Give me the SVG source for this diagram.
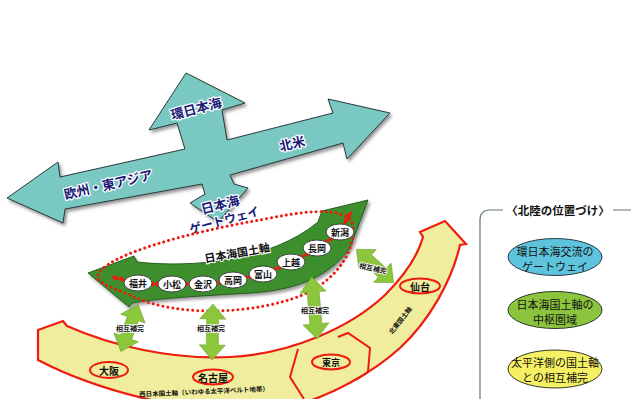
<svg xmlns="http://www.w3.org/2000/svg" width="631" height="399" viewBox="0 0 631 399">
<defs>
<style>
.jp{font-family:'Noto Sans CJK JP','Noto Sans CJK SC',sans-serif;}
.teal-t{font-size:13px;font-weight:bold;fill:#1c1c78;stroke:#fff;stroke-width:2.5px;paint-order:stroke;stroke-linejoin:round;text-anchor:middle;dominant-baseline:central;}
.st{fill:#fff;stroke:#333;stroke-width:0.9;}
.st-t{font-size:9px;font-weight:bold;fill:#111;text-anchor:middle;dominant-baseline:central;}
.city{fill:none;stroke:#ee1c10;stroke-width:2;}
.city-t{font-size:10px;font-weight:bold;fill:#111;text-anchor:middle;dominant-baseline:central;}
.lime{fill:#8cc63c;stroke:#6fa52a;stroke-width:0.6;}
.sg{font-size:7px;font-weight:bold;fill:#111;stroke:#fff;stroke-width:1.5px;paint-order:stroke;text-anchor:middle;dominant-baseline:central;}
.red2{stroke:#ee1c10;stroke-width:2;fill:none;}
.dd{stroke:#ee1c10;stroke-width:2;marker-start:url(#rh);marker-end:url(#rh);}
.el-t{font-size:11px;fill:#111;text-anchor:middle;dominant-baseline:central;}
.small{font-size:6.5px;font-weight:bold;fill:#111;text-anchor:middle;dominant-baseline:central;}
</style>
<marker id="rh" viewBox="0 0 6 6" refX="5" refY="3" markerWidth="6" markerHeight="6" markerUnits="userSpaceOnUse" orient="auto-start-reverse">
<path d="M0,0 L6,3 L0,6 z" fill="#ee1c10"/>
</marker>
<filter id="sh" x="-10%" y="-10%" width="130%" height="130%">
<feDropShadow dx="2" dy="2.5" stdDeviation="1.5" flood-color="#444" flood-opacity="0.55"/>
</filter>
</defs>
<rect width="631" height="399" fill="#fff"/>

<!-- Pacific axis (yellow band) -->
<g id="pacific-axis">
<path d="M38,330 L63,321 L67,326 C110,345 170,360 230,357 C290,354 350,328 385,295 C405,275 418,255 423,237 L420,232 L445,221 L466,244 L460,245 C452,280 430,320 400,348 C370,375 330,395 300,404 L170,404 C130,396 80,382 38,360 Z" fill="#f0ee9e" stroke="#ee1c10" stroke-width="2.2" stroke-linejoin="miter"/>
<polyline class="red2" points="298,349 290,377 304,399"/>
<polyline class="red2" points="338,337 348,333 370,348 368,372 356,380"/>
<text class="jp small" transform="translate(204,391) rotate(-2.5)">西日本国土軸（いわゆる太平洋ベルト地帯）</text>
<text class="jp small" transform="translate(400,320) rotate(-52)">北東国土軸</text>
</g>
<g id="osaka"><ellipse class="city" cx="109" cy="370" rx="19" ry="8"/><text class="jp city-t" x="109" y="370">大阪</text></g>
<g id="nagoya"><ellipse class="city" cx="213" cy="377" rx="20" ry="7.5"/><text class="jp city-t" x="213" y="377">名古屋</text></g>
<g id="tokyo"><ellipse class="city" cx="331" cy="362" rx="19" ry="7.5"/><text class="jp city-t" x="331" y="362" style="font-size:9px">東京</text></g>
<g id="sendai"><ellipse class="city" cx="420" cy="286" rx="20" ry="7.5"/><text class="jp city-t" x="420" y="286">仙台</text></g>

<!-- Teal cross arrow -->
<g id="global-arrows">
<polygon points="7,198 58,162 60,177 185,149 177,123 149,130 186,73 245,103 222,110 227,140 333,113 328,99 390,113 347,159 343,143 230,175 234,184 248,188 218,222 190,203 205,194 202,184 65,209 63,223" fill="#7ac8c2" stroke="#2a3a3a" stroke-width="1" stroke-linejoin="miter" filter="url(#sh)"/>
<text class="jp teal-t" transform="translate(196,108) rotate(-15)">環日本海</text>
<text class="jp teal-t" transform="translate(292,143) rotate(-13)">北米</text>
<text class="jp teal-t" transform="translate(108,184) rotate(-13)">欧州・東アジア</text>
<text class="jp teal-t" transform="translate(220,204) rotate(-15)">日本海</text>
<text class="jp teal-t" transform="translate(224,219) rotate(-15)" style="font-size:12px">ゲートウェイ</text>
</g>

<!-- Japan Sea axis (green arrow) -->
<g id="japan-sea-axis">
<path d="M88,273 L134,256 L137,262 C190,268 270,262 318,222 L322,211 L368,200 L350,248 C330,275 300,290 250,293 C200,296 160,298 132,303 L129,307 Z" fill="#3d8f2f" stroke="#24601a" stroke-width="1" filter="url(#sh)"/>
<text class="jp" transform="translate(237,252) rotate(-10)" style="font-size:11px;font-weight:bold;fill:#111;stroke:#fff;stroke-width:2px;paint-order:stroke;text-anchor:middle;dominant-baseline:central">日本海国土軸</text>
</g>

<!-- connectors -->
<g id="connectors">
<path d="M98,275 C105,255 190,232 260,220 C300,212 340,205 352,222 C358,245 340,280 300,296 C260,312 180,320 130,295 C110,287 95,282 98,275 Z" fill="none" stroke="#ee1c10" stroke-width="3" stroke-dasharray="0.01 5" stroke-linecap="round"/>
<line class="dd" x1="112" y1="277" x2="125" y2="280"/>
<line class="dd" x1="149" y1="284" x2="161" y2="284"/>
<line class="dd" x1="182" y1="284" x2="194" y2="284"/>
<line class="dd" x1="212" y1="283" x2="224" y2="282"/>
<line class="dd" x1="242" y1="278" x2="254" y2="276"/>
<line class="dd" x1="271" y1="271" x2="283" y2="266"/>
<line class="dd" x1="299" y1="259" x2="310" y2="252"/>
<line class="dd" x1="324" y1="244" x2="334" y2="236"/>
<line class="dd" x1="344" y1="224" x2="351" y2="212"/>
<g transform="translate(129.5,328) rotate(110)"><polygon class="lime" points="-25,0 -10,-13 -10,-6 10,-6 10,-13 25,0 10,13 10,6 -10,6 -10,13"/></g>
<g transform="translate(212.5,332) rotate(91)"><polygon class="lime" points="-28,0 -13,-13 -13,-6 13,-6 13,-13 28,0 13,13 13,6 -13,6 -13,13"/></g>
<g transform="translate(314.5,308) rotate(85)"><polygon class="lime" points="-31,0 -16,-13 -16,-6 16,-6 16,-13 31,0 16,13 16,6 -16,6 -16,13"/></g>
<g transform="translate(375,266) rotate(42)"><polygon class="lime" points="-25,0 -10,-13 -10,-6 10,-6 10,-13 25,0 10,13 10,6 -10,6 -10,13"/></g>
<text class="jp sg" x="130" y="328">相互補完</text>
<text class="jp sg" x="211" y="328">相互補完</text>
<text class="jp sg" x="315" y="310">相互補完</text>
<text class="jp sg" transform="translate(373,268) rotate(12)">相互補完</text>
</g>

<!-- stations -->
<g id="fukui"><ellipse class="st" cx="138" cy="283" rx="14" ry="8"/><text class="jp st-t" x="138" y="283">福井</text></g>
<g id="komatsu"><ellipse class="st" cx="172" cy="284" rx="14" ry="8"/><text class="jp st-t" x="172" y="284">小松</text></g>
<g id="kanazawa"><ellipse class="st" cx="203" cy="284" rx="14" ry="8"/><text class="jp st-t" x="203" y="284">金沢</text></g>
<g id="takaoka"><ellipse class="st" cx="233" cy="280" rx="14" ry="8"/><text class="jp st-t" x="233" y="280">高岡</text></g>
<g id="toyama"><ellipse class="st" cx="263" cy="274" rx="14" ry="8"/><text class="jp st-t" x="263" y="274">富山</text></g>
<g id="joetsu"><ellipse class="st" cx="291" cy="262" rx="14" ry="8"/><text class="jp st-t" x="291" y="262">上越</text></g>
<g id="nagaoka"><ellipse class="st" cx="317" cy="248" rx="14" ry="8"/><text class="jp st-t" x="317" y="248">長岡</text></g>
<g id="niigata"><ellipse class="st" cx="340" cy="232" rx="14" ry="8"/><text class="jp st-t" x="340" y="232">新潟</text></g>

<!-- right panel -->
<g id="hokuriku-panel">
<path d="M503,210 L490,210 Q480,210 480,220 L480,399 M613,210 L631,210" fill="none" stroke="#5b7a65" stroke-width="1.2"/>
<text class="jp" x="558" y="210" style="font-size:11.5px;font-weight:bold;fill:#111;text-anchor:middle;dominant-baseline:central">〈北陸の位置づけ〉</text>
</g>
<g id="gateway-role"><ellipse cx="555" cy="257" rx="47" ry="18.5" fill="#5ec3dc" stroke="#2a3a48" stroke-width="1"/><text class="jp el-t" x="555" y="251">環日本海交流の</text><text class="jp el-t" x="555" y="266">ゲートウェイ</text></g>
<g id="hub-role"><ellipse cx="555" cy="310" rx="47" ry="18.5" fill="#8cc43e" stroke="#2a3a28" stroke-width="1"/><text class="jp el-t" x="555" y="304">日本海国土軸の</text><text class="jp el-t" x="555" y="319">中枢圏域</text></g>
<g id="complement-role"><ellipse cx="555" cy="369" rx="47" ry="19" fill="#f6f064" stroke="#3a3a28" stroke-width="1"/><text class="jp el-t" x="555" y="362">太平洋側の国土軸</text><text class="jp el-t" x="555" y="377">との相互補完</text></g>
</svg>
